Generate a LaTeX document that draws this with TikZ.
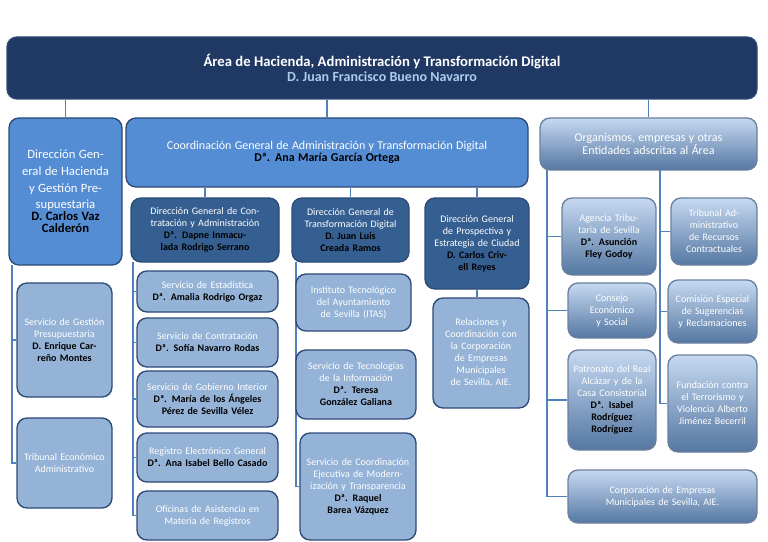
\documentclass[tikz,border=0pt]{standalone}
\usepackage{fontspec}
\setmainfont{Carlito}
\usetikzlibrary{backgrounds}
\definecolor{navy}{RGB}{31,56,100}
\definecolor{midblue}{RGB}{84,141,212}
\definecolor{darkblue}{RGB}{54,95,145}
\definecolor{lightblue}{RGB}{149,179,215}
\definecolor{edgeblue}{RGB}{44,74,117}
\definecolor{paleblue}{RGB}{198,217,241}
\definecolor{linkblue}{RGB}{79,129,189}
\begin{document}
\begin{tikzpicture}[x=0.75pt,y=0.75pt,yscale=-1,xscale=1,
  sz/.code 2 args={\pgfmathsetlengthmacro\bw{(#1-10)*0.75pt}\tikzset{minimum width=#1*0.75pt,minimum height=#2*0.75pt,text width=\bw}},
  box/.style={draw=edgeblue,line width=1pt,rounded corners=7.5pt,align=center,inner sep=2pt,text=white,font=\fontsize{7.5}{9}\selectfont},
  topbox/.style={box,fill=navy},
  midbox/.style={box,fill=midblue},
  darkbox/.style={box,fill=darkblue},
  lightbox/.style={box,fill=lightblue},
  gradbox/.style={box,draw=edgeblue!70,top color=paleblue,bottom color=darkblue!85},
  link/.style={draw=linkblue,line width=0.9pt}]
\useasboundingbox (0,0) rectangle (768,542);

% head of the area
\node[topbox,sz={750}{62}] (area) at (382,68) {{\fontsize{11}{13}\selectfont\bfseries Área de Hacienda, Administración y Transformación Digital}\\[1pt]{\fontsize{10.5}{13}\selectfont\bfseries\color{paleblue!80!midblue} D. Juan Francisco Bueno Navarro}};

% second level
\node[midbox,sz={113}{147}] (dgh) at (65.5,191.5) {\fontsize{9.5}{12.5}\selectfont Dirección General de Hacienda y Gestión Presupuestaria\\ \textcolor{black}{\bfseries D. Carlos Vaz Calderón}};
\node[midbox,sz={402}{69}] (coord) at (327,152.5) {\fontsize{9}{11.5}\selectfont Coordinación General de Administración y Transformación Digital\\ \textcolor{black}{\bfseries Dª. Ana María García Ortega}};
\node[gradbox,sz={217}{52}] (org) at (648.5,144) {\fontsize{9}{11.5}\selectfont Organismos, empresas y otras\\ Entidades adscritas al Área};

% direcciones generales
\node[darkbox,sz={148}{64}] (dgc) at (205,230) {Dirección General de Contratación y Administración\\ \textcolor{black}{\bfseries Dª. Dapne Inmaculada Rodrigo Serrano}};
\node[darkbox,sz={117}{64}] (dgt) at (350.5,230) {Dirección General de Transformación Digital\\ \textcolor{black}{\bfseries D. Juan Luis Creada Ramos}};
\node[darkbox,sz={104}{91}] (dgp) at (477,243.5) {Dirección General de Prospectiva y Estrategia de Ciudad\\ \textcolor{black}{\bfseries D. Carlos Crivell Reyes}};

% hacienda
\node[lightbox,sz={95}{114}] (sgp) at (64.5,340) {Servicio de Gestión Presupuestaria\\ \textcolor{black}{\bfseries D. Enrique Carreño Montes}};
\node[lightbox,sz={95}{90}] (tea) at (64.5,463) {Tribunal Económico Administrativo};

% contratacion
\node[lightbox,sz={141}{41}] (est) at (207.5,291.5) {Servicio de Estadística\\ \textcolor{black}{\bfseries Dª. Amalia Rodrigo Orgaz}};
\node[lightbox,sz={141}{49}] (con) at (207.5,342.5) {Servicio de Contratación\\ \textcolor{black}{\bfseries Dª. Sofía Navarro Rodas}};
\node[lightbox,sz={141}{56}] (gob) at (207.5,399) {Servicio de Gobierno Interior\\ \textcolor{black}{\bfseries Dª. María de los Ángeles Pérez de Sevilla Vélez}};
\node[lightbox,sz={141}{49}] (reg) at (207.5,457.5) {Registro Electrónico General\\ \textcolor{black}{\bfseries Dª. Ana Isabel Bello Casado}};
\node[lightbox,sz={141}{49}] (ofi) at (207.5,515.5) {Oficinas de Asistencia en Materia de Registros};

% transformacion
\node[lightbox,sz={115}{57}] (itas) at (353.5,302.5) {Instituto Tecnológico del Ayuntamiento de Sevilla (ITAS)};
\node[lightbox,sz={120}{69}] (sti) at (356,384.5) {Servicio de Tecnologías de la Información\\ \textcolor{black}{\bfseries Dª. Teresa González Galiana}};
\node[lightbox,sz={116}{107}] (sce) at (358,486.5) {Servicio de Coordinación Ejecutiva de Modernización y Transparencia\\ \textcolor{black}{\bfseries Dª. Raquel Barea Vázquez}};

% prospectiva
\node[lightbox,sz={96}{110}] (rel) at (481,353) {Relaciones y Coordinación con la Corporación de Empresas Municipales de Sevilla, AIE.};

% organismos
\node[gradbox,sz={94}{77}] (ats) at (609,236.5) {Agencia Tributaria de Sevilla\\ \textcolor{black}{\bfseries Dª. Asunción Fley Godoy}};
\node[gradbox,sz={86}{67}] (tarc) at (714,231.5) {Tribunal Administrativo de Recursos Contractuales};
\node[gradbox,sz={88}{55}] (ces) at (612,310.5) {Consejo Económico y Social};
\node[gradbox,sz={89}{63}] (cesr) at (712.5,311.5) {Comisión Especial de Sugerencias y Reclamaciones};
\node[gradbox,sz={88}{100}] (pra) at (612,400) {Patronato del Real Alcázar y de la Casa Consistorial\\ \textcolor{black}{\bfseries Dª. Isabel Rodríguez Rodríguez}};
\node[gradbox,sz={89}{97}] (fct) at (712.5,403.5) {Fundación contra el Terrorismo y Violencia Alberto Jiménez Becerril};
\node[gradbox,sz={189}{53}] (cem) at (662.5,496.5) {Corporación de Empresas Municipales de Sevilla, AIE.};

\coordinate (hspine) at (12,265);
\coordinate (cspine) at (133,262);
\coordinate (tspine) at (296,262);
\coordinate (ospineA) at (547,170);
\coordinate (ospineB) at (660,170);

\begin{scope}[on background layer]
\draw[link] (area.south -| dgh.north) -- (dgh.north);
\draw[link] (area.south -| coord.north) -- (coord.north);
\draw[link] (area.south -| org.north) -- (org.north);
\draw[link] (coord.south -| dgc.north) -- (dgc.north);
\draw[link] (coord.south -| dgt.north) -- (dgt.north);
\draw[link] (coord.south -| dgp.north) -- (dgp.north);
\draw[link] (dgp.south) -- (dgp.south |- rel.north);
\foreach \b in {sgp,tea} \draw[link] (hspine) |- (\b.west);
\foreach \b in {est,con,gob,reg,ofi} \draw[link] (cspine) |- (\b.west);
\foreach \b in {itas,sti,sce} \draw[link] (tspine) |- (\b.west);
\foreach \b in {ats,ces,pra,cem} \draw[link] (ospineA) |- (\b.west);
\foreach \b in {tarc,cesr,fct} \draw[link] (ospineB) |- (\b.west);
\end{scope}
\end{tikzpicture}
\end{document}
